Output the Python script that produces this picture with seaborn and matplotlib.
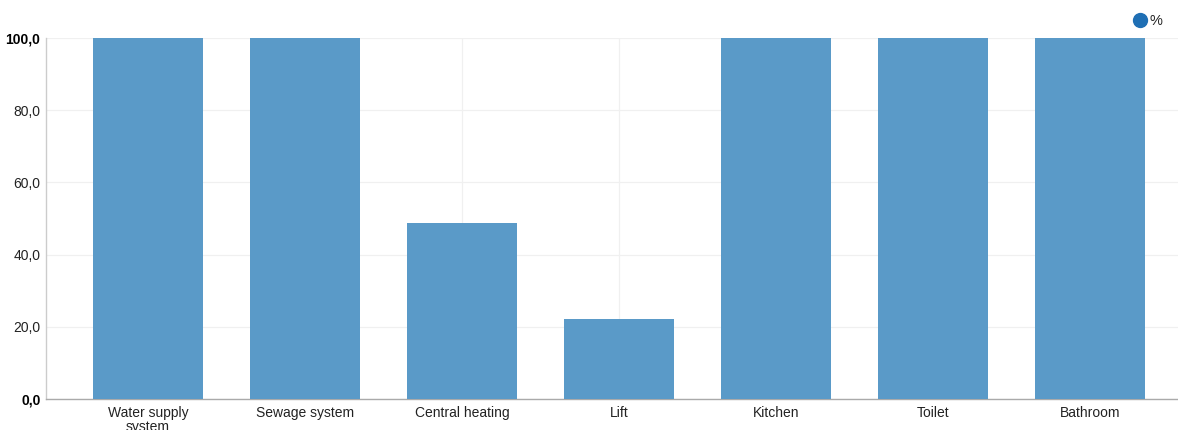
import matplotlib
matplotlib.use("Agg")
import matplotlib.pyplot as plt
import seaborn as sns
import pandas as pd
from matplotlib.lines import Line2D

categories = ["Water supply\nsystem", "Sewage system", "Central heating", "Lift", "Kitchen", "Toilet", "Bathroom"]
values = [100.0, 100.0, 48.8, 22.2, 100.0, 100.0, 100.0]
series_name = "%"
y_ticks = [0, 20, 40, 60, 80, 100]

sns.set_theme(style="white")
plt.rcParams['font.family'] = ['Liberation Sans', 'DejaVu Sans']

df = pd.DataFrame({"cat": categories, "val": values})

fig = plt.figure(figsize=(11.78, 4.30), dpi=100)
ax = fig.add_axes([46/1178, 31/430, 1 - 46/1178, (399-38)/430])

sns.barplot(data=df, x="cat", y="val", color="#5a9ac8", width=0.70,
            saturation=1, ax=ax, zorder=3, linewidth=0)

ax.set_xlim(-0.65, 6.56)
ax.set_ylim(0, 100)
ax.set_yticks(y_ticks)
ax.set_yticklabels([f"{v:.1f}".replace(".", ",") for v in y_ticks], fontsize=10, color="#222222")
for lbl, v in zip(ax.get_yticklabels(), y_ticks):
    if v in (0, 100):
        lbl.set_fontweight("bold")
        lbl.set_color("#000000")
ax.tick_params(axis="x", labelsize=10, colors="#222222", length=0, pad=5)
ax.tick_params(axis="y", length=0, pad=4)
for lbl in ax.get_xticklabels():
    lbl.set_linespacing(1.05)
ax.set_xlabel("")
ax.set_ylabel("")

ax.grid(True, axis="both", color="#f0f0f0", linewidth=0.9, zorder=0)
ax.set_axisbelow(True)
for s in ["top", "right"]:
    ax.spines[s].set_visible(False)
ax.spines["left"].set_color("#cccccc")
ax.spines["bottom"].set_color("#aaaaaa")
ax.spines["left"].set_linewidth(1)
ax.spines["bottom"].set_linewidth(1)

handle = Line2D([], [], marker="o", linestyle="", markersize=10, color="#1f6fb4")
fig.legend([handle], [series_name], loc="upper right", bbox_to_anchor=(0.997, 0.995),
           frameon=False, handletextpad=-0.1, handlelength=1.5, fontsize=10.5, borderpad=0.3)

fig.savefig("out.png", dpi=100)
